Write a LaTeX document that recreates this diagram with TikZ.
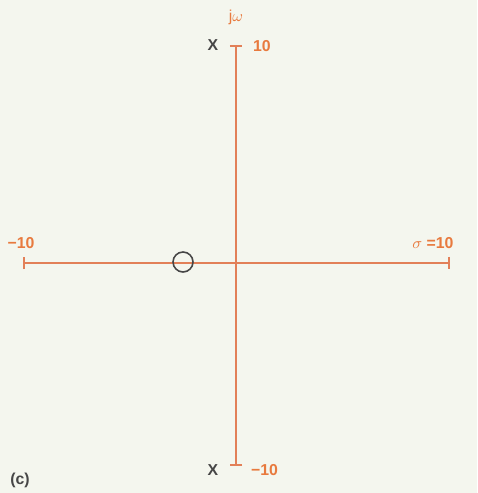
\documentclass[tikz,border=0pt]{standalone}
\usepackage{fontspec}
\setmainfont{Liberation Sans}
\usepackage{tikz}
\usetikzlibrary{arrows.meta}

\definecolor{axisorange}{RGB}{226,128,88}
\definecolor{lblorange}{RGB}{232,122,62}
\definecolor{paper}{RGB}{244,246,238}
\definecolor{markgray}{RGB}{70,70,70}

\begin{document}
\begin{tikzpicture}[
  x=0.02cm, y=-0.02cm,
  axis/.style={draw=axisorange, line width=0.9pt, {Bar[width=7pt]}-{Bar[width=7pt]}},
  numlbl/.style={text=lblorange, font=\bfseries\small, inner sep=1pt},
  pole/.style={text=markgray, font=\bfseries\small, inner sep=1pt},
  zero/.style={draw=markgray, circle, line width=0.9pt, minimum size=0.4cm, inner sep=0pt}
]
  % background and frame of the picture
  \fill[paper] (0,0) rectangle (477,493);
  \useasboundingbox (0,0) rectangle (477,493);

  % axis ends
  \coordinate (left) at (23,263);
  \coordinate (right) at (450,263);
  \coordinate (top) at (236,45);
  \coordinate (bottom) at (236,466);

  % axes
  \draw[axis] (left) -- (right);
  \draw[axis] (top) -- (bottom);

  % axis labels
  \node[text=lblorange, font=\small, inner sep=1pt] (jw) at (236,17) {j$\omega$};
  \node[numlbl, anchor=west] (ytop) at (251,46) {10};
  \node[numlbl, anchor=west] (ybot) at (249,470) {−10};
  \node[numlbl] (xleft) at (21,243) {−10};
  \node[numlbl] (xright) at (433,243) {$\sigma$ =10};

  % poles and zero
  \node[pole] (p1) at (213,45) {X};
  \node[pole] (p2) at (213,470) {X};
  \node[zero] (z1) at (183,262) {};

  % caption
  \node[font=\bfseries\small, text=markgray] (cap) at (20,480) {(c)};
\end{tikzpicture}
\end{document}
